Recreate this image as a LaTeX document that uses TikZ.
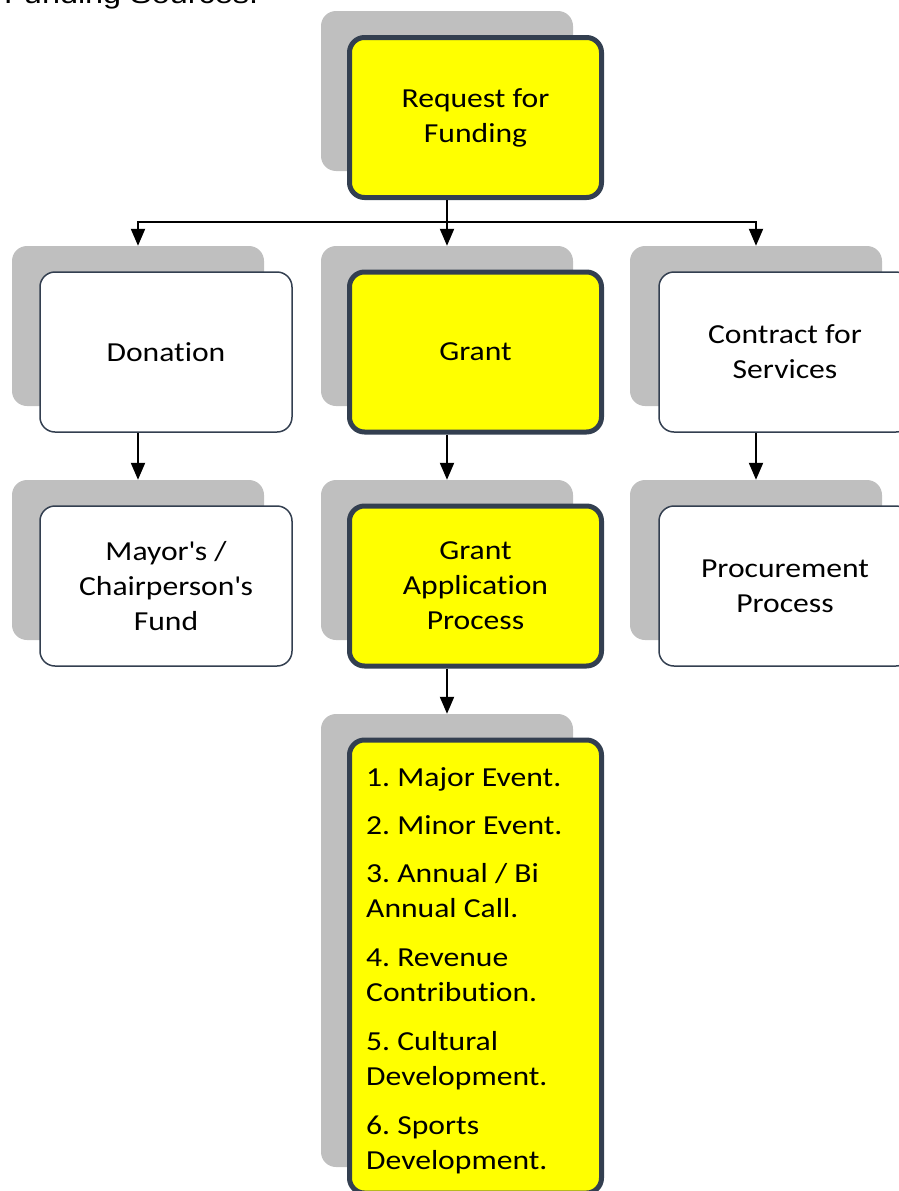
\documentclass[tikz,border=0pt]{standalone}
\usepackage{fontspec}
\newfontfamily\boxfont{Carlito}[FakeStretch=1.15,Ligatures=NoCommon]
\newfontfamily\titlefont{Liberation Sans}[FakeStretch=1.2]
\usetikzlibrary{arrows.meta}
\definecolor{shade}{HTML}{BFBFBF}
\definecolor{edge}{HTML}{333F50}
\definecolor{keyyellow}{HTML}{FFFF00}
\frenchspacing
\begin{document}
\begin{tikzpicture}[x=1pt,y=-1pt,
  shadowbox/.style={fill=shade, draw=none, rounded corners=15pt, minimum width=252pt, minimum height=160pt, inner sep=0pt},
  plainbox/.style={fill=white, draw=edge, line width=1.5pt, rounded corners=15pt, minimum width=252pt, minimum height=160pt, inner sep=0pt, align=center, font=\boxfont\fontsize{27.5}{35}\selectfont},
  keybox/.style={plainbox, fill=keyyellow, line width=5pt},
  listtext/.style={anchor=base west, inner sep=0pt, font=\boxfont\fontsize{27.5}{35}\selectfont},
  link/.style={line width=2pt, -{Triangle[length=17pt,width=14pt]}},
  wire/.style={line width=2pt}]
\useasboundingbox (0,0) rectangle (899,1191);

\node[anchor=base west, inner sep=0pt, font=\titlefont\fontsize{27}{32}\selectfont] (title) at (4,3) {Funding Sources.};

% row 1
\node[shadowbox] (g1) at (447,91) {};
\node[keybox] (n1) at (475.5,117.5) {Request for\\Funding};

% row 2
\node[shadowbox] (g2a) at (138,326) {};
\node[plainbox] (n2a) at (166,352) {Donation};
\node[shadowbox] (g2b) at (447,326) {};
\node[keybox] (n2b) at (475.5,352) {Grant};
\node[shadowbox] (g2c) at (756,326) {};
\node[plainbox] (n2c) at (785,352) {Contract for\\Services};

% row 3
\node[shadowbox] (g3a) at (138,560) {};
\node[plainbox] (n3a) at (166,586) {Mayor\textquotesingle s /\\Chairperson\textquotesingle s\\Fund};
\node[shadowbox] (g3b) at (447,560) {};
\node[keybox] (n3b) at (475.5,586) {Grant\\Application\\Process};
\node[shadowbox] (g3c) at (756,560) {};
\node[plainbox] (n3c) at (785,586) {Procurement\\Process};

% row 4
\node[shadowbox, minimum height=453pt] (g4) at (447,940.5) {};
\node[keybox, minimum height=453pt] (n4) at (475.5,966.5) {};
\node[listtext] (l1) at (366,786) {1. Major Event.};
\node[listtext] (l2) at (366,834) {2. Minor Event.};
\node[listtext] (l3) at (366,882) {3. Annual / Bi};
\node[listtext] (l3b) at (366,917) {Annual Call.};
\node[listtext] (l4) at (366,966) {4. Revenue};
\node[listtext] (l4b) at (366,1001) {Contribution.};
\node[listtext] (l5) at (366,1050) {5. Cultural};
\node[listtext] (l5b) at (366,1085) {Development.};
\node[listtext] (l6) at (366,1134) {6. Sports};
\node[listtext] (l6b) at (366,1169) {Development.};

% connectors
\coordinate (hub) at (447,222);
\draw[wire] (n1.south -| hub) -- (hub);
\draw[link] (hub) -| (g2a.north);
\draw[link] (hub) -- (g2b.north);
\draw[link] (hub) -| (g2c.north);
\draw[link] (n2a.south -| g3a.north) -- (g3a.north);
\draw[link] (n2b.south -| g3b.north) -- (g3b.north);
\draw[link] (n2c.south -| g3c.north) -- (g3c.north);
\draw[link] (n3b.south -| g4.north) -- (g4.north);
\end{tikzpicture}
\end{document}
